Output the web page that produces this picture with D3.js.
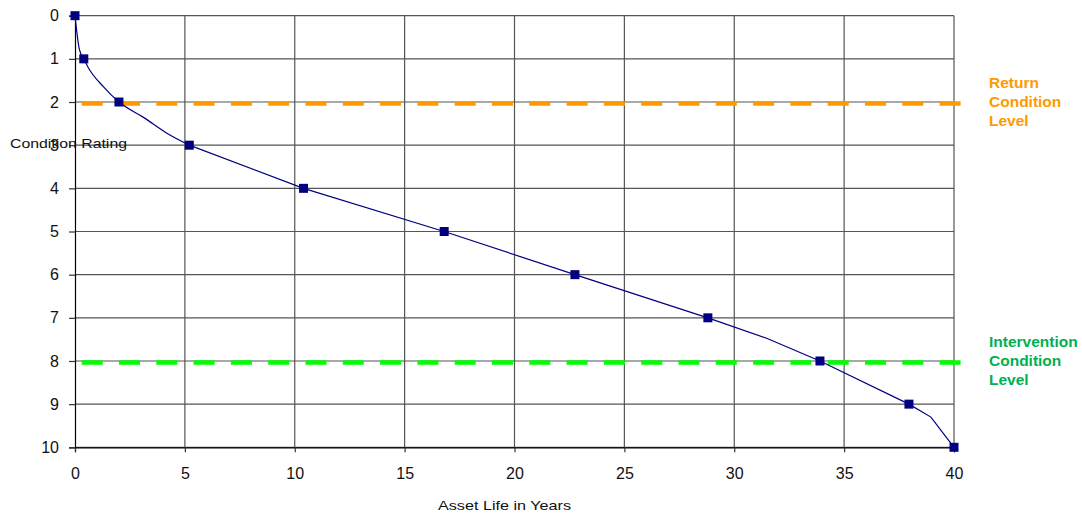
<!DOCTYPE html>
<html>
<head>
<meta charset="utf-8">
<script src="https://cdn.jsdelivr.net/npm/d3@7"></script>
<style>
  html, body { margin: 0; padding: 0; background: #fff; }
  svg { display: block; font-family: "Liberation Sans", Arial, sans-serif; }
</style>
</head>
<body>
<svg id="chart" width="1082" height="514"></svg>
<script>
// Condition rating at which each whole rating is reached (years)
const markerYears   = [0, 0.4, 2, 5.2, 10.4, 16.8, 22.75, 28.8, 33.9, 37.95, 40];
const markerRatings = [0, 1, 2, 3, 4, 5, 6, 7, 8, 9, 10];

// Deterioration curve: smooth early section, then piecewise straight
const earlyYears   = [0, 0.2, 0.4, 0.6, 1.3, 2, 3.1, 4.2, 5.2];
const earlyRatings = [0, 0.78, 1, 1.2, 1.65, 2, 2.35, 2.73, 3];
const lateYears    = [5.2, 10.4, 16.8, 22.75, 28.8, 31.5, 33.9, 37.95, 38.95, 40];
const lateRatings  = [3, 4, 5, 6, 7, 7.48, 8, 9, 9.3, 10];

// Threshold levels
const thresholds = [
  { rating: 2, color: "#FF9900", textColor: "#FF9900", label: ["Return", "Condition", "Level"] },
  { rating: 8, color: "#00FF00", textColor: "#00B050", label: ["Intervention", "Condition", "Level"] }
];

const xTicks = [0, 5, 10, 15, 20, 25, 30, 35, 40];
const yTicks = [0, 1, 2, 3, 4, 5, 6, 7, 8, 9, 10];

const svg = d3.select("#chart");
const x = d3.scaleLinear().domain([0, 40]).range([75, 954]);
const y = d3.scaleLinear().domain([0, 10]).range([15.7, 447.3]);

// Gridlines
const grid = svg.append("g").attr("stroke", "#555").attr("stroke-width", 1.2);
grid.selectAll("line.h").data(yTicks).join("line")
  .attr("x1", x(0)).attr("x2", x(40))
  .attr("y1", d => y(d)).attr("y2", d => y(d));
grid.selectAll("line.v").data(xTicks.slice(1)).join("line")
  .attr("x1", d => x(d)).attr("x2", d => x(d))
  .attr("y1", y(0)).attr("y2", y(10));

// Axes
const yAxis = d3.axisLeft(y).tickValues(yTicks).tickSize(6).tickPadding(10).tickFormat(d3.format("d"));
const gy = svg.append("g").attr("transform", `translate(${x(0)},0)`).call(yAxis);
const xAxis = d3.axisBottom(x).tickValues(xTicks).tickSize(5).tickPadding(15).tickFormat(d3.format("d"));
const gx = svg.append("g").attr("transform", `translate(0,${y(10)})`).call(xAxis);
[gx, gy].forEach(g => {
  g.select(".domain").attr("stroke", "#000").attr("stroke-width", 1.2);
  g.selectAll(".tick line").attr("stroke", "#333").attr("stroke-width", 1.2);
  g.selectAll(".tick text").attr("fill", "#111").style("font-size", "16px")
    .style("font-family", "'Liberation Sans', Arial, sans-serif");
});

// Threshold dashed lines and their labels
thresholds.forEach(t => {
  svg.append("line")
    .attr("x1", 81.7).attr("x2", 961.7)
    .attr("y1", y(t.rating) + 1.5).attr("y2", y(t.rating) + 1.5)
    .attr("stroke", t.color).attr("stroke-width", 4.5)
    .attr("stroke-dasharray", "21,16.3");
  svg.append("text")
    .attr("x", 989).attr("y", y(t.rating) - 14)
    .attr("fill", t.textColor)
    .style("font-size", "15.5px").style("font-weight", "bold")
    .selectAll("tspan").data(t.label).join("tspan")
    .attr("x", 989).attr("dy", (d, i) => i === 0 ? 0 : 19)
    .text(d => d);
});

// Curve
const line = d3.line().x(d => x(d[0])).y(d => y(d[1]));
svg.append("path")
  .datum(earlyYears.map((v, i) => [v, earlyRatings[i]]))
  .attr("fill", "none").attr("stroke", "#000080").attr("stroke-width", 1.2)
  .attr("d", line.curve(d3.curveMonotoneX));
svg.append("path")
  .datum(lateYears.map((v, i) => [v, lateRatings[i]]))
  .attr("fill", "none").attr("stroke", "#000080").attr("stroke-width", 1.2)
  .attr("d", line.curve(d3.curveLinear));

// Markers
svg.append("g").selectAll("rect")
  .data(markerYears.map((v, i) => [v, markerRatings[i]]))
  .join("rect")
  .attr("x", d => x(d[0]) - 4.5).attr("y", d => y(d[1]) - 4.5)
  .attr("width", 9).attr("height", 9)
  .attr("fill", "#000080");

// Axis titles
svg.append("text").attr("x", 10).attr("y", 148)
  .style("font-size", "13px").attr("fill", "#111")
  .attr("textLength", 117).attr("lengthAdjust", "spacingAndGlyphs")
  .text("Condition Rating");
svg.append("text").attr("x", 438).attr("y", 510)
  .style("font-size", "13px").attr("fill", "#111")
  .attr("textLength", 133).attr("lengthAdjust", "spacingAndGlyphs")
  .text("Asset Life in Years");
</script>
</body>
</html>
